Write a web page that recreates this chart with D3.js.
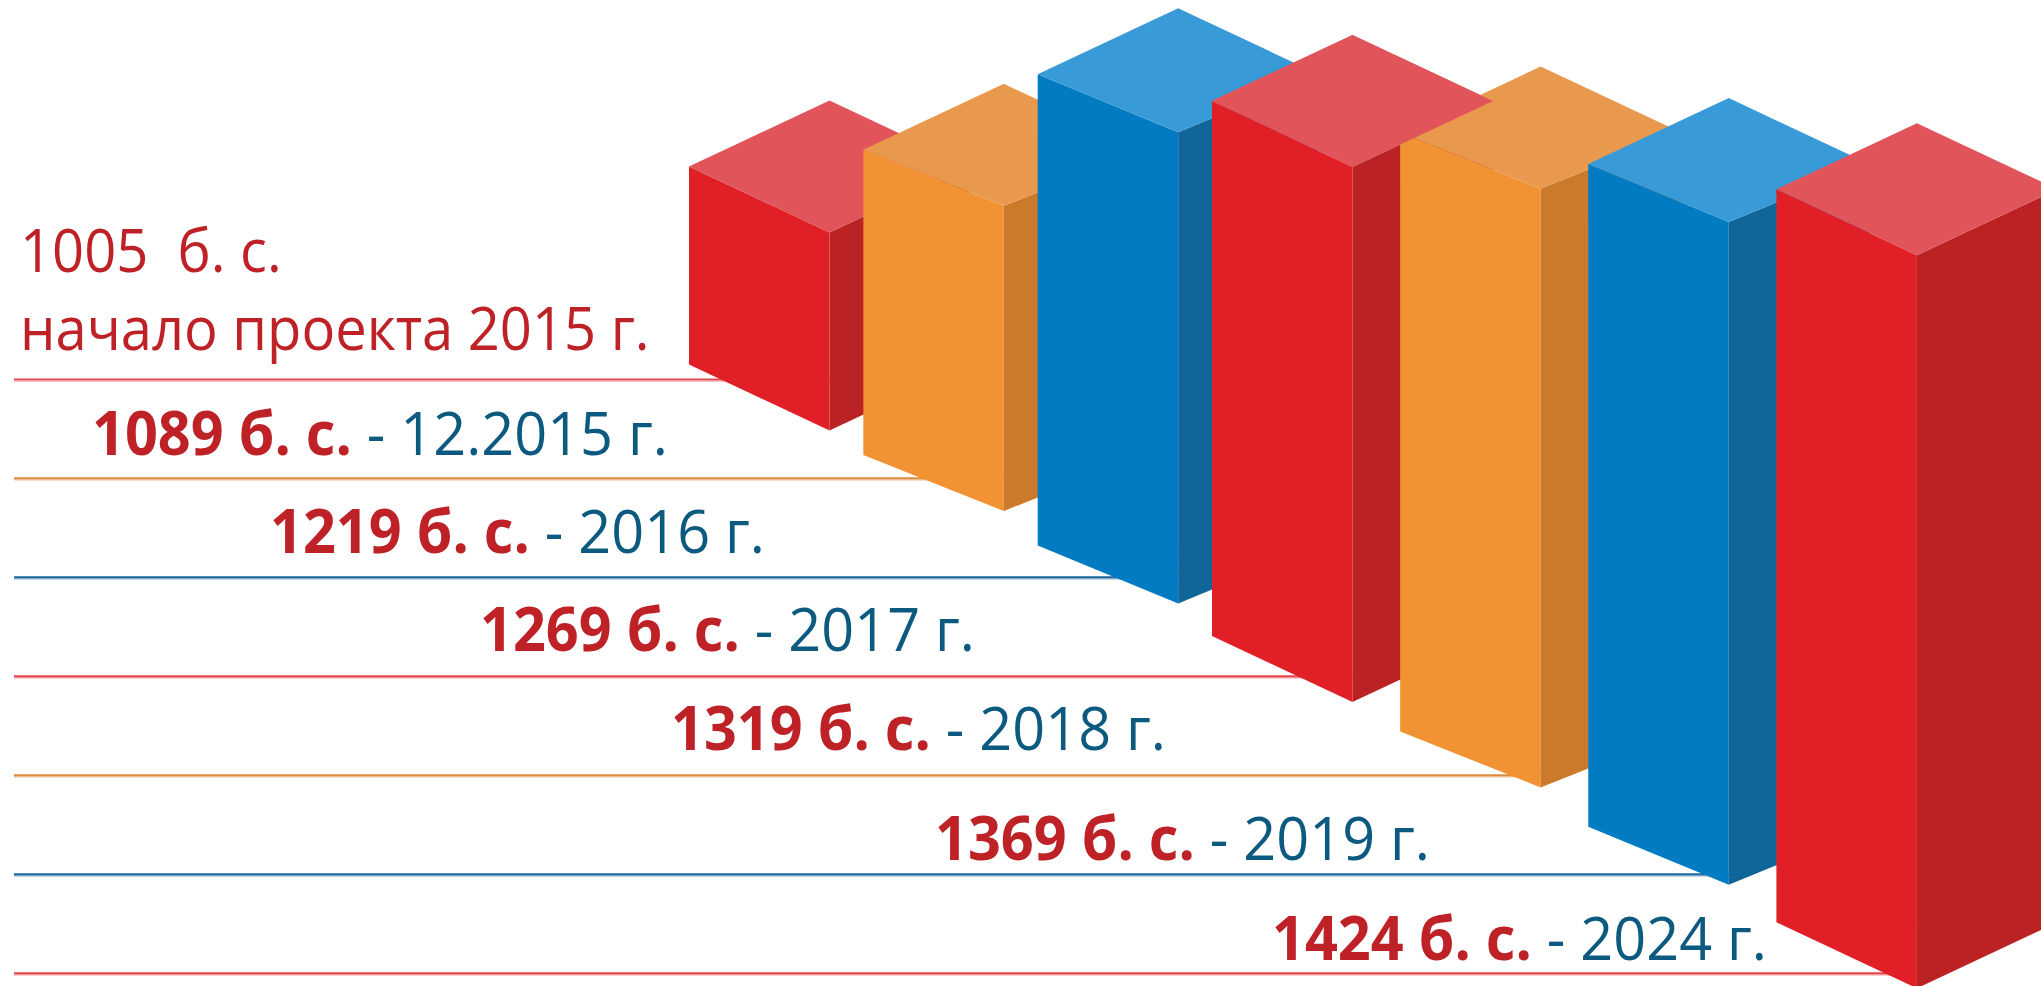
<!DOCTYPE html>
<html>
<head>
<meta charset="utf-8">
<script src="https://cdn.jsdelivr.net/npm/d3@7"></script>
<style>
  html, body { margin: 0; padding: 0; background: #ffffff; overflow: hidden; }
  svg { display: block; }
</style>
</head>
<body>
<svg id="chart" width="2041" height="986"></svg>
<script>
// ---------------- data ----------------
const periods = ["2015", "12.2015", "2016", "2017", "2018", "2019", "2024"];
const values = [1005, 1089, 1219, 1269, 1319, 1369, 1424];
const unitLabel = "б. с.";
const yearSuffix = "г.";
const startCaption = "начало проекта";

// ---------------- layout / style ----------------
const WIDTH = 2041, HEIGHT = 986;
const palette = {
  red:    { front: "#e11f26", side: "#bb2224", top: "#e1545a", rule: "#e6464c", drop: 66 },
  orange: { front: "#f19233", side: "#cb7a2b", top: "#e8994e", rule: "#de8b3d", drop: 56 },
  blue:   { front: "#027bc2", side: "#106599", top: "#389ad6", rule: "#1d6a9e", drop: 58 }
};
const colorCycle = ["red", "orange", "blue"];
const halfW = 140.5;      // half width of a bar footprint
const rise = 66;          // rise of the back edge of the top face
const textRed = "#be2227";
const textBlue = "#0c5a7f";
const fontSize = 60;
const textSqueeze = 0.96;
const startSqueeze = 0.935;
const labelX = [20, 92, 270, 480, 671, 935, 1272];
const labelLift = [29.5, 23.5, 24.5, 25.5, 25.5, 14.5, 13.3];
const raisedTop = [false, false, false, true, false, false, false]; // top face painted over the next bar

const svg = d3.select("#chart");

// ---------------- scales ----------------
const idx = d3.range(values.length);
const floorX = d3.scaleLinear().domain([0, 3, 6]).range([689, 1212, 1776.4]);
const floorY = d3.scaleLinear().domain([0, 3, 6]).range([364.5, 636, 922.3]);
const heightScale = d3.scaleLinear().domain([850, 1424]).range([0, 733]);
const ruleY = d3.scalePoint().domain(periods).range([379.5, 973.3]);

const bars = idx.map(i => {
  const c = palette[colorCycle[i % 3]];
  const x0 = floorX(i);
  const h = heightScale(values[i]);
  const y0 = floorY(i) - h;
  return { i, c, x0, y0, h };
});

// ---------------- rules ----------------
const rules = svg.append("g").attr("class", "rules");
idx.forEach(i => {
  const c = palette[colorCycle[i % 3]];
  const y = ruleY(periods[i]);
  rules.append("line")
    .attr("x1", 14).attr("x2", floorX(i) + halfW)
    .attr("y1", y).attr("y2", y)
    .attr("stroke", c.rule).attr("stroke-width", 2.2);
  rules.append("line")
    .attr("x1", 14).attr("x2", floorX(i) + halfW)
    .attr("y1", y + 1.8).attr("y2", y + 1.8)
    .attr("stroke", c.rule).attr("stroke-opacity", 0.35).attr("stroke-width", 1.2);
});

// ---------------- bars ----------------
const barsG = svg.append("g").attr("class", "bars");
const pts = a => a.map(p => p.join(",")).join(" ");

function drawBody(b) {
  const { c, x0, y0, h } = b;
  const d = c.drop;
  const g = barsG.append("g");
  g.append("polygon").attr("fill", c.front)
    .attr("points", pts([[x0, y0], [x0 + halfW, y0 + d], [x0 + halfW, y0 + d + h], [x0, y0 + h]]));
  g.append("polygon").attr("fill", c.side)
    .attr("points", pts([[x0 + halfW, y0 + d], [x0 + 2 * halfW, y0], [x0 + 2 * halfW, y0 + h], [x0 + halfW, y0 + d + h]]));
}
function drawTop(b) {
  const { c, x0, y0 } = b;
  const d = c.drop;
  barsG.append("polygon").attr("fill", c.top)
    .attr("points", pts([[x0, y0], [x0 + halfW, y0 - rise], [x0 + 2 * halfW, y0], [x0 + halfW, y0 + d]]));
}

let pending = null;
bars.forEach(b => {
  drawBody(b);
  drawTop(b);
  if (pending) { drawTop(pending); pending = null; }
  if (raisedTop[b.i]) pending = b;
});
if (pending) drawTop(pending);

// ---------------- labels ----------------
const labels = svg.append("g").attr("class", "labels")
  .attr("font-family", "'Open Sans', 'Noto Sans', sans-serif")
  .attr("font-size", fontSize);

// first (start) label, two lines
const y0Rule = ruleY(periods[0]);
const g0 = labels.append("g")
  .attr("transform", `translate(${labelX[0]},${y0Rule - labelLift[0]}) scale(${startSqueeze},1)`);
g0.append("text")
  .attr("x", 0).attr("y", -78)
  .attr("fill", textRed)
  .style("white-space", "pre")
  .text(`${values[0]}  ${unitLabel}`);
g0.append("text")
  .attr("x", 0).attr("y", 0)
  .attr("fill", textRed)
  .text(`${startCaption} ${periods[0]} ${yearSuffix}`);

idx.slice(1).forEach(i => {
  const y = ruleY(periods[i]) - labelLift[i];
  const t = labels.append("g")
    .attr("transform", `translate(${labelX[i]},${y}) scale(${textSqueeze},1)`)
    .append("text").attr("x", 0).attr("y", 0)
    .style("white-space", "pre");
  t.append("tspan").attr("font-weight", 700).attr("fill", textRed)
    .text(`${values[i]} ${unitLabel}`);
  t.append("tspan").attr("fill", textBlue)
    .text(` - ${periods[i]} ${yearSuffix}`);
});
</script>
</body>
</html>
